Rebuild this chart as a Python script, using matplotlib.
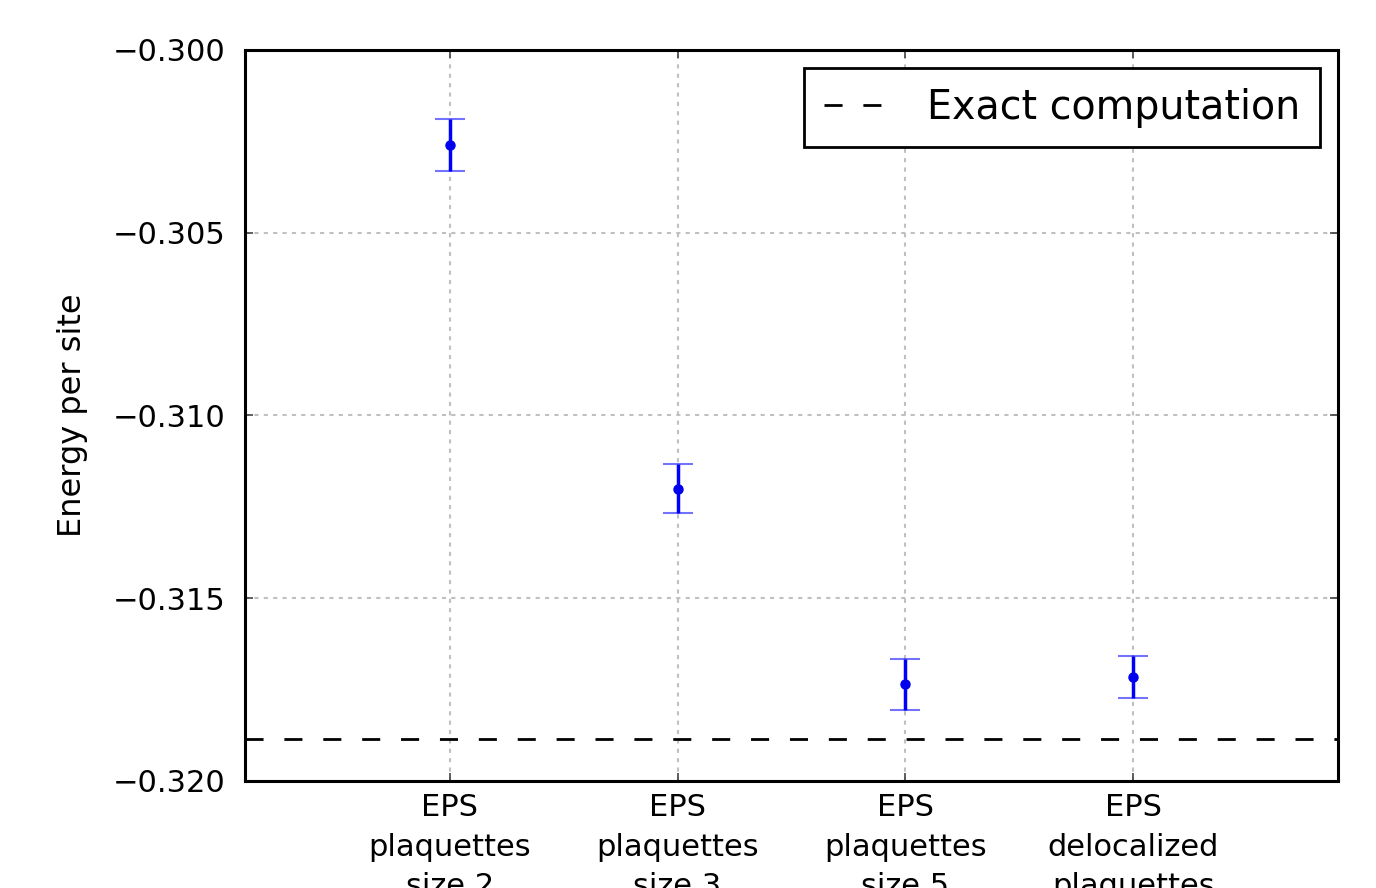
import matplotlib
matplotlib.use("Agg")
import matplotlib.pyplot as plt
from matplotlib.ticker import FuncFormatter

categories = ["EPS\nplaquettes\nsize 2", "EPS\nplaquettes\nsize 3",
              "EPS\nplaquettes\nsize 5", "EPS\ndelocalized\nplaquettes"]
x_pos = [1, 2, 3, 4]
energies = [-0.30260, -0.31200, -0.31735, -0.31715]
errors = [0.00071, 0.00067, 0.00070, 0.00058]
exact_energy = -0.31885
y_ticks = [-0.320, -0.315, -0.310, -0.305, -0.300]

plt.rcParams['font.family'] = ['DejaVu Sans']
fig = plt.figure(figsize=(13.76, 8.88), dpi=100)
ax = fig.add_axes([0.178, 0.1205, 0.9724 - 0.178, 0.9437 - 0.1205])

ax.errorbar(x_pos, energies, yerr=errors, fmt='o', color='#0000ee', ms=6.5,
            elinewidth=2.5, capsize=11, capthick=1.5, ecolor='#0000ff', zorder=3)
eb = ax.containers[-1]
for cap in eb.lines[1]:
    cap.set_alpha(0.55)

ax.axhline(exact_energy, color='black', lw=2, dashes=(6.5, 7.5), label='Exact computation')

ax.set_xlim(0.1, 4.9)
ax.set_ylim(-0.320, -0.300)
ax.set_xticks(x_pos)
ax.set_xticklabels(categories, linespacing=1.45)
ax.set_yticks(y_ticks)
ax.yaxis.set_major_formatter(FuncFormatter(lambda v, p: ("%.3f" % v).replace('-', '\u2212')))

ax.grid(True, color='#c0c0c0', lw=1.5, dashes=(2, 2.5))
ax.set_axisbelow(True)
ax.tick_params(axis='both', direction='in', length=6, width=1.2, color='#444444',
               labelsize=22, top=True, right=True)
ax.tick_params(axis='x', pad=9)
ax.tick_params(axis='y', pad=14)
for s in ax.spines.values():
    s.set_linewidth(2.2)
ax.set_ylabel('Energy per site', fontsize=23, labelpad=18)

leg = ax.legend(loc='upper right', fontsize=28.5, frameon=True, fancybox=False,
                handlelength=1.55, borderaxespad=0.45, handletextpad=1.05,
                borderpad=0.5)
leg.get_frame().set_edgecolor('black')
leg.get_frame().set_linewidth(2)
leg.get_frame().set_alpha(1)

fig.savefig('out.png', dpi=100)
